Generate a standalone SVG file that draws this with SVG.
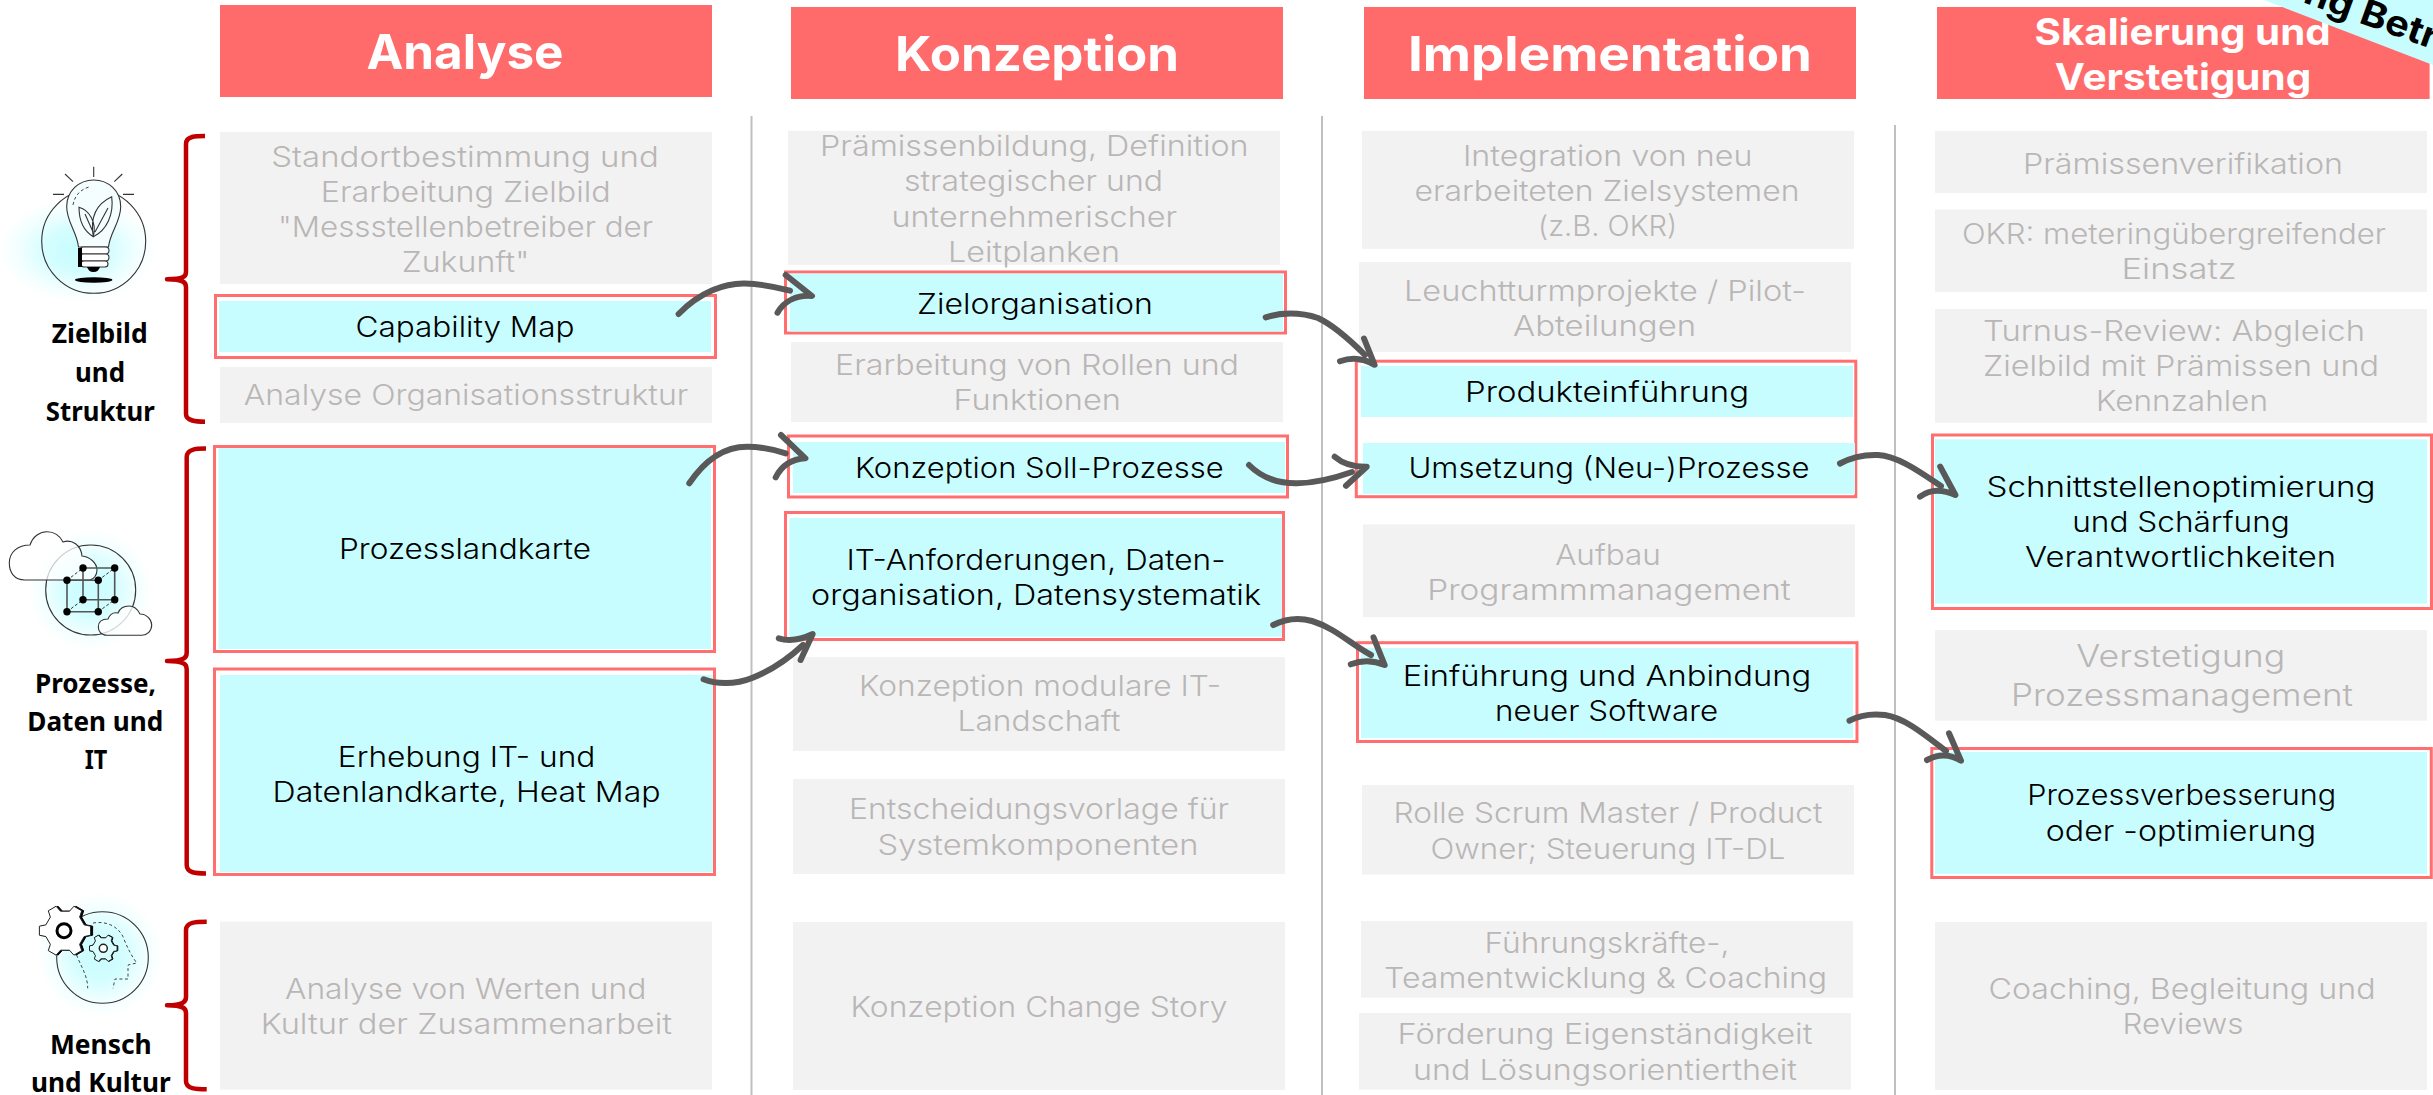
<svg xmlns="http://www.w3.org/2000/svg" width="2433" height="1095" viewBox="0 0 2433 1095">
<style>
text{font-family:"Inter","Liberation Sans",sans-serif;text-anchor:middle}
.h{fill:#ff6b6b}
.g{fill:#f2f2f2}
.c{fill:#c8fdff}
.o{fill:#fff;stroke:#ff6f6f;stroke-width:3}
.hd{fill:#fff;font-weight:700;font-size:48px;transform:translateY(1.5px)}
.hs{fill:#fff;font-weight:700;font-size:37px;transform:translateY(.7px)}
.t{fill:#b9b6b6;font-size:28px;font-weight:350;transform:translateY(.7px)}
.k{fill:#000;font-size:28px;font-weight:350;transform:translateY(.7px)}
.l{fill:#000;font-family:"Noto Sans","Liberation Sans",sans-serif;font-weight:700;font-size:27px}
.br{fill:none;stroke:#c00000;stroke-width:4.5;stroke-linejoin:round}
.div{stroke:#bfbfbf;stroke-width:2}
.ar{fill:none;stroke:#595959;stroke-width:6;stroke-linecap:round;stroke-linejoin:round}
.ic{fill:none;stroke:#333;stroke-width:1.1}
.dash{fill:none;stroke:#444;stroke-width:1;stroke-dasharray:3 2.5}
.cube{stroke:#555;stroke-width:1.6;fill:none}
.cd{stroke:#333;stroke-width:1;stroke-dasharray:3 2;fill:none}
</style>
<defs>
<radialGradient id="glow"><stop offset="0" stop-color="#c8fdff"/><stop offset=".4" stop-color="#c8fdff" stop-opacity=".8"/><stop offset=".75" stop-color="#c8fdff" stop-opacity=".25"/><stop offset="1" stop-color="#c8fdff" stop-opacity="0"/></radialGradient>
<polygon id="gear" vector-effect="non-scaling-stroke" points="73.6,-22.5 98.5,-17.4 98.5,17.4 73.6,22.5 56.3,52.5 64.3,76.6 34.2,94 17.3,75 -17.3,75 -34.2,94 -64.3,76.6 -56.3,52.5 -73.6,22.5 -98.5,17.4 -98.5,-17.4 -73.6,-22.5 -56.3,-52.5 -64.3,-76.6 -34.2,-94 -17.3,-75 17.3,-75 34.2,-94 64.3,-76.6 56.3,-52.5"/>
</defs>

<g id="dividers">
<line class="div" x1="751.5" y1="116" x2="751.5" y2="1095"/>
<line class="div" x1="1322" y1="116" x2="1322" y2="1095"/>
<line class="div" x1="1895" y1="125" x2="1895" y2="1095"/>
</g>

<g id="icon-bulb">
<ellipse cx="78" cy="250" rx="78" ry="52" fill="url(#glow)"/>
<circle class="ic" cx="93.7" cy="241.3" r="52"/>
<path class="ic" style="fill:#f4feff" d="M78.5 247C77 232 66.7 222 66.7 206.7C66.7 191 79 180 93.7 180C108.5 180 120.7 191 120.7 206.7C120.7 222 110 232 108.5 247Z"/>
<path class="ic" d="M93.3 236.7C82 230 79 218 79 207.3C89 210 97 222 93.3 236.7ZM93.3 236.7C90 218 96 204 111.7 196.700C114 214 107 230 93.3 236.7ZM85 214L93 232M108 208L95 232"/>
<path class="dash" d="M73 205C75 195 80 190 89 187"/>
<g class="ic" style="fill:#fff"><rect x="80" y="247" width="29" height="7" rx="3.5"/><rect x="80" y="254" width="29" height="7" rx="3.5"/><rect x="81" y="261" width="27" height="6" rx="3"/></g>
<path d="M78 248h4v19h-4z" fill="#000"/>
<path d="M87 267h13c-1 3-3 5-6.5 5s-5.500-2-6.500-5z" fill="#000"/>
<ellipse cx="93.7" cy="280" rx="18.7" ry="2.7" fill="#000"/>
<path class="ic" d="M93.7 166.7V177M65 174L73 181.6M122.3 174L114.3 181.6M53 194.4H64M123 194.4H134"/>
</g>
<g id="icon-cube">
<ellipse cx="90" cy="590" rx="62" ry="60" fill="url(#glow)"/>
<circle class="ic" cx="90.7" cy="590" r="45"/>
<path class="ic" style="fill:#fff;fill-opacity:.75" d="M25 580C14 580 9.3 572 9.3 563C9.3 552 18 545 30 545C33 536 40 531.7 47 531.7C54 531.7 60 536 63 542C72 539 81 545 82 556C90 557 97 563 97 570C97 575 94 579 90 580Z"/>
<path class="cube" d="M67 580.3H98.3V611.7H67ZM83 568H114.7V599.7H83Z"/>
<path class="cd" d="M67 580.3L83 568M98.3 580.3L114.7 568M67 611.7L83 599.7M98.3 611.7L114.7 599.7"/>
<g fill="#000"><circle cx="67" cy="580.3" r="3.7"/><circle cx="98.3" cy="580.3" r="3.7"/><circle cx="67" cy="611.7" r="3.7"/><circle cx="98.3" cy="611.7" r="3.7"/><circle cx="83" cy="568" r="3.7"/><circle cx="114.7" cy="568" r="3.7"/><circle cx="83" cy="599.7" r="3.7"/><circle cx="114.7" cy="599.7" r="3.7"/></g>
<path class="ic" style="fill:#fff;fill-opacity:.8" d="M107 635.3C101 635.3 98.3 631 98.3 627C98.3 622 102 619 108 619C110 614 114 612 118 613C120 608 125 606 129 606C134 606 138 610 140 614C147 614 151.7 620 151.7 625C151.7 631 147 635.3 142 635.3Z"/>
</g>
<g id="icon-head">
<ellipse cx="100" cy="955" rx="62" ry="62" fill="url(#glow)"/>
<circle class="ic" cx="102.5" cy="957.5" r="45.8"/>
<path class="dash" d="M76.7 955C80 965 87.7 975 87.7 988.3M93 923C105 921 117 925 123 936.7C127 947 131 955 136.7 963L128 965V979H115L113 988.3"/>
<use href="#gear" transform="translate(67 930.7) scale(.26)" fill="#000" stroke="#000"/>
<use href="#gear" transform="translate(65 930.7) scale(.26)" fill="#fff" stroke="#222"/>
<circle cx="64" cy="930.7" r="7" fill="#fff" stroke="#000" stroke-width="3"/>
<use href="#gear" transform="translate(104 948.3) scale(.14)" fill="#000" stroke="#000"/>
<use href="#gear" transform="translate(103.3 948.3) scale(.14)" fill="#d8fdff" stroke="#222"/>
<circle cx="103.3" cy="948.3" r="4" fill="#fff" stroke="#222" stroke-width="1.5"/>
</g>

<g id="label-zielbild">
<text class="l" x="99.7" y="343" textLength="96" lengthAdjust="spacingAndGlyphs">Zielbild</text>
<text class="l" x="100" y="381.7" textLength="50" lengthAdjust="spacingAndGlyphs">und</text>
<text class="l" x="100.3" y="420.7" textLength="109" lengthAdjust="spacingAndGlyphs">Struktur</text>
</g>
<g id="label-prozesse">
<text class="l" x="95.5" y="692.7" textLength="121" lengthAdjust="spacingAndGlyphs">Prozesse,</text>
<text class="l" x="95.3" y="730.7" textLength="136" lengthAdjust="spacingAndGlyphs">Daten und</text>
<text class="l" x="96" y="769.3" textLength="22.6" lengthAdjust="spacingAndGlyphs">IT</text>
</g>
<g id="label-mensch">
<text class="l" x="100.8" y="1054" textLength="101.7" lengthAdjust="spacingAndGlyphs">Mensch</text>
<text class="l" x="100.8" y="1092" textLength="139.7" lengthAdjust="spacingAndGlyphs">und Kultur</text>
</g>

<g id="brackets">
<path class="br" d="M205 136C196 136 186 136 186 144V272C186 277 183 279 167 279.3C183 279.6 186 282 186 287V414C186 421 196 421.7 205 421.7"/>
<path class="br" d="M206 448.6C196 448.6 186.7 449 186.7 457V653C186.7 658 184 660.7 167 661C184 661.3 186.7 664 186.7 669V865C186.7 873 196 873.5 206 873.5"/>
<path class="br" d="M206.7 921.7C196 921.7 186 922 186 930V997C186 1002 183 1005 167 1005.3C183 1005.6 186 1008 186 1013V1081C186 1089 196 1089.3 206.7 1089.3"/>
</g>

<g id="head-analyse"><rect class="h" x="220" y="5" width="492" height="92"/><text class="hd" x="465" y="67" textLength="197" lengthAdjust="spacingAndGlyphs">Analyse</text></g>
<g id="head-konzeption"><rect class="h" x="791" y="7" width="492" height="92"/><text class="hd" x="1037" y="69.4" textLength="284" lengthAdjust="spacingAndGlyphs">Konzeption</text></g>
<g id="head-implementation"><rect class="h" x="1364" y="7" width="492" height="92"/><text class="hd" x="1610" y="69.4" textLength="404" lengthAdjust="spacingAndGlyphs">Implementation</text></g>
<g id="head-skalierung"><rect class="h" x="1937" y="7" width="492.6" height="92"/>
<text class="hs" x="2182.6" y="44" textLength="296" lengthAdjust="spacingAndGlyphs">Skalierung und</text>
<text class="hs" x="2183" y="89.3" textLength="256.4" lengthAdjust="spacingAndGlyphs">Verstetigung</text></g>
<g id="banner"><polygon class="c" points="2264,0 2433,65 2433,0"/>
<text x="2302" y="2" transform="rotate(20 2302 2)" style="text-anchor:start;font-weight:700;font-size:36px;fill:#000" textLength="140" lengthAdjust="spacingAndGlyphs">ng Betr</text></g>

<g id="a1"><rect class="g" x="220" y="132" width="492" height="152"/>
<text class="t" x="465" y="166" textLength="387.5" lengthAdjust="spacingAndGlyphs">Standortbestimmung und</text>
<text class="t" x="465.7" y="201" textLength="290" lengthAdjust="spacingAndGlyphs">Erarbeitung Zielbild</text>
<text class="t" x="465.5" y="236" textLength="375" lengthAdjust="spacingAndGlyphs">"Messstellenbetreiber der</text>
<text class="t" x="465.5" y="271" textLength="127.5" lengthAdjust="spacingAndGlyphs">Zukunft"</text></g>
<g id="a2"><rect class="o" x="215.5" y="295.5" width="500" height="62"/><rect class="c" x="219" y="301" width="492" height="51"/>
<text class="k" x="465" y="336.4" textLength="219" lengthAdjust="spacingAndGlyphs">Capability Map</text></g>
<g id="a3"><rect class="g" x="220" y="367" width="492" height="56"/>
<text class="t" x="466" y="404.6" textLength="444.6" lengthAdjust="spacingAndGlyphs">Analyse Organisationsstruktur</text></g>
<g id="a4"><rect class="o" x="214.5" y="446.5" width="500" height="205"/><rect class="c" x="218.6" y="448" width="492.4" height="201"/>
<text class="k" x="465" y="558.4" textLength="252" lengthAdjust="spacingAndGlyphs">Prozesslandkarte</text></g>
<g id="a5"><rect class="o" x="214.5" y="669" width="500" height="205.5"/><rect class="c" x="220" y="675" width="493" height="197"/>
<text class="k" x="466.6" y="766.5" textLength="257.5" lengthAdjust="spacingAndGlyphs">Erhebung IT- und</text>
<text class="k" x="466.6" y="801" textLength="388" lengthAdjust="spacingAndGlyphs">Datenlandkarte, Heat Map</text></g>
<g id="a6"><rect class="g" x="220" y="921.6" width="492" height="168"/>
<text class="t" x="465.7" y="998.4" textLength="361.4" lengthAdjust="spacingAndGlyphs">Analyse von Werten und</text>
<text class="t" x="466.4" y="1033.8" textLength="411.4" lengthAdjust="spacingAndGlyphs">Kultur der Zusammenarbeit</text></g>

<g id="b1"><rect class="g" x="788" y="130.8" width="492" height="134"/>
<text class="t" x="1034.3" y="155.7" textLength="428.6" lengthAdjust="spacingAndGlyphs">Prämissenbildung, Definition</text>
<text class="t" x="1033.5" y="190.8" textLength="259" lengthAdjust="spacingAndGlyphs">strategischer und</text>
<text class="t" x="1034.3" y="225.9" textLength="285.7" lengthAdjust="spacingAndGlyphs">unternehmerischer</text>
<text class="t" x="1034" y="261.7" textLength="172" lengthAdjust="spacingAndGlyphs">Leitplanken</text></g>
<g id="b2"><rect class="o" x="785.5" y="272" width="500" height="61"/><rect class="c" x="790" y="273.6" width="493" height="58"/>
<text class="k" x="1035" y="313.2" textLength="236" lengthAdjust="spacingAndGlyphs">Zielorganisation</text></g>
<g id="b3"><rect class="g" x="791" y="342" width="492" height="80"/>
<text class="t" x="1037" y="374.3" textLength="404" lengthAdjust="spacingAndGlyphs">Erarbeitung von Rollen und</text>
<text class="t" x="1037.3" y="409.3" textLength="167.5" lengthAdjust="spacingAndGlyphs">Funktionen</text></g>
<g id="b4"><rect class="o" x="788.5" y="436" width="499" height="61"/><rect class="c" x="793" y="442" width="492" height="51"/>
<text class="k" x="1039.3" y="477" textLength="368.6" lengthAdjust="spacingAndGlyphs">Konzeption Soll-Prozesse</text></g>
<g id="b5"><rect class="o" x="785.5" y="512.5" width="498" height="127"/><rect class="c" x="789.4" y="518" width="492.6" height="118.7"/>
<text class="k" x="1036" y="569.3" textLength="379" lengthAdjust="spacingAndGlyphs">IT-Anforderungen, Daten-</text>
<text class="k" x="1036" y="604.3" textLength="450" lengthAdjust="spacingAndGlyphs">organisation, Datensystematik</text></g>
<g id="b6"><rect class="g" x="793" y="657" width="492" height="94"/>
<text class="t" x="1040" y="695" textLength="362" lengthAdjust="spacingAndGlyphs">Konzeption modulare IT-</text>
<text class="t" x="1039" y="730" textLength="163" lengthAdjust="spacingAndGlyphs">Landschaft</text></g>
<g id="b7"><rect class="g" x="793" y="779" width="492" height="95"/>
<text class="t" x="1039" y="818" textLength="380" lengthAdjust="spacingAndGlyphs">Entscheidungsvorlage für</text>
<text class="t" x="1038" y="854" textLength="321" lengthAdjust="spacingAndGlyphs">Systemkomponenten</text></g>
<g id="b8"><rect class="g" x="793" y="922" width="492" height="168"/>
<text class="t" x="1039" y="1016" textLength="377" lengthAdjust="spacingAndGlyphs">Konzeption Change Story</text></g>

<g id="c1"><rect class="g" x="1362" y="130.8" width="492" height="118"/>
<text class="t" x="1607.7" y="164.9" textLength="289.6" lengthAdjust="spacingAndGlyphs">Integration von neu</text>
<text class="t" x="1607" y="200" textLength="385" lengthAdjust="spacingAndGlyphs">erarbeiteten Zielsystemen</text>
<text class="t" x="1607.6" y="235.7" textLength="139" lengthAdjust="spacingAndGlyphs">(z.B. OKR)</text></g>
<g id="c2"><rect class="g" x="1359" y="262" width="492" height="90"/>
<text class="t" x="1605" y="299.9" textLength="402" lengthAdjust="spacingAndGlyphs">Leuchtturmprojekte / Pilot-</text>
<text class="t" x="1604.6" y="335" textLength="183" lengthAdjust="spacingAndGlyphs">Abteilungen</text></g>
<g id="c3"><rect class="o" x="1356.3" y="361.2" width="499.5" height="135.5"/>
<rect class="c" x="1361" y="365.8" width="492" height="51.2"/>
<text class="k" x="1607" y="401.6" textLength="284" lengthAdjust="spacingAndGlyphs">Produkteinführung</text>
<rect class="c" x="1363" y="443" width="492" height="50.9"/>
<text class="k" x="1609" y="477" textLength="401" lengthAdjust="spacingAndGlyphs">Umsetzung (Neu-)Prozesse</text></g>
<g id="c4"><rect class="g" x="1363" y="524.4" width="492" height="92.8"/>
<text class="t" x="1608" y="564" textLength="105.7" lengthAdjust="spacingAndGlyphs">Aufbau</text>
<text class="t" x="1609" y="599" textLength="363.6" lengthAdjust="spacingAndGlyphs">Programmmanagement</text></g>
<g id="c5"><rect class="o" x="1357.5" y="642.7" width="499.5" height="98.8"/><rect class="c" x="1361" y="648" width="492" height="90"/>
<text class="k" x="1607" y="685" textLength="408.6" lengthAdjust="spacingAndGlyphs">Einführung und Anbindung</text>
<text class="k" x="1606.6" y="720.5" textLength="223" lengthAdjust="spacingAndGlyphs">neuer Software</text></g>
<g id="c6"><rect class="g" x="1362" y="785" width="492" height="89.5"/>
<text class="t" x="1608" y="822.5" textLength="429" lengthAdjust="spacingAndGlyphs">Rolle Scrum Master / Product</text>
<text class="t" x="1608" y="857.9" textLength="355" lengthAdjust="spacingAndGlyphs">Owner; Steuerung IT-DL</text></g>
<g id="c7"><rect class="g" x="1361" y="921" width="492" height="76.7"/>
<text class="t" x="1607" y="952.4" textLength="245" lengthAdjust="spacingAndGlyphs">Führungskräfte-,</text>
<text class="t" x="1605.6" y="987.8" textLength="443" lengthAdjust="spacingAndGlyphs">Teamentwicklung &amp; Coaching</text></g>
<g id="c8"><rect class="g" x="1359" y="1013" width="492" height="76.7"/>
<text class="t" x="1605" y="1043.7" textLength="415" lengthAdjust="spacingAndGlyphs">Förderung Eigenständigkeit</text>
<text class="t" x="1605" y="1079.5" textLength="384" lengthAdjust="spacingAndGlyphs">und Lösungsorientiertheit</text></g>

<g id="d1"><rect class="g" x="1935" y="131" width="492" height="62"/>
<text class="t" x="2183" y="173" textLength="320" lengthAdjust="spacingAndGlyphs">Prämissenverifikation</text></g>
<g id="d2"><rect class="g" x="1935" y="209.5" width="492" height="82.5"/>
<text class="t" x="2174" y="243" textLength="424" lengthAdjust="spacingAndGlyphs">OKR: meteringübergreifender</text>
<text class="t" x="2179" y="278" textLength="115" lengthAdjust="spacingAndGlyphs">Einsatz</text></g>
<g id="d3"><rect class="g" x="1935" y="309" width="492" height="113.7"/>
<text class="t" x="2174" y="340" textLength="382" lengthAdjust="spacingAndGlyphs">Turnus-Review: Abgleich</text>
<text class="t" x="2181" y="375" textLength="396" lengthAdjust="spacingAndGlyphs">Zielbild mit Prämissen und</text>
<text class="t" x="2182" y="410" textLength="172" lengthAdjust="spacingAndGlyphs">Kennzahlen</text></g>
<g id="d4"><rect class="o" x="1932.5" y="435" width="499" height="173.5"/><rect class="c" x="1935" y="439.3" width="492" height="164.4"/>
<text class="k" x="2181" y="496.7" textLength="389" lengthAdjust="spacingAndGlyphs">Schnittstellenoptimierung</text>
<text class="k" x="2181" y="531.7" textLength="217.5" lengthAdjust="spacingAndGlyphs">und Schärfung</text>
<text class="k" x="2180.6" y="566.7" textLength="311" lengthAdjust="spacingAndGlyphs">Verantwortlichkeiten</text></g>
<g id="d5"><rect class="g" x="1935" y="630" width="492" height="90.7"/>
<text class="t" x="2180.8" y="666.7" style="font-size:31px" textLength="209" lengthAdjust="spacingAndGlyphs">Verstetigung</text>
<text class="t" x="2182" y="705" style="font-size:31px" textLength="342" lengthAdjust="spacingAndGlyphs">Prozessmanagement</text></g>
<g id="d6"><rect class="o" x="1931.8" y="748.5" width="499.5" height="129"/><rect class="c" x="1935" y="752" width="492" height="121.7"/>
<text class="k" x="2181.7" y="804" textLength="309" lengthAdjust="spacingAndGlyphs">Prozessverbesserung</text>
<text class="k" x="2181" y="840" textLength="270.4" lengthAdjust="spacingAndGlyphs">oder -optimierung</text></g>
<g id="d7"><rect class="g" x="1935" y="922" width="492" height="168"/>
<text class="t" x="2182" y="998" textLength="387" lengthAdjust="spacingAndGlyphs">Coaching, Begleitung und</text>
<text class="t" x="2183" y="1033" textLength="121" lengthAdjust="spacingAndGlyphs">Reviews</text></g>

<g id="connectors" class="ar">
<path d="M678.6 314C700 292 725 283 745 283.5C762 284 776 287 790 290.7"/><path d="M785.7 275L812 296C798 295 785 300 777.5 312.7"/>
<path d="M689.3 483.3C705 460 725 446.7 747 446.7C762 446.7 775 450 785.7 453.3"/><path d="M781 435L805.4 458.3C793 459 782 465 775.7 477.3"/>
<path d="M703.6 679.3C715 684 735 685 752 678C770 671 787 660 803 645"/><path d="M778.8 638.3C790 642 800 640 812.7 634L800.6 660"/>
<path d="M1249 465C1262 478 1280 483.5 1297 483.3C1315 483 1335 478 1352 472"/><path d="M1334.7 456.7C1342 463 1352 467 1366.7 466.7L1346 485.7"/>
<path d="M1265.7 317.4C1280 312.5 1300 312 1318 318C1335 326 1350 340 1365 355"/><path d="M1364 338.5L1374.6 364.8C1363 358 1352 357 1340 361.3"/>
<path d="M1273.2 625C1285 619 1298 617 1312 621C1335 628 1352 645 1371 655"/><path d="M1373.5 637.3L1384.7 665C1373 660 1362 660 1350.8 664.3"/>
<path d="M1840 463.5C1852 457 1865 454.5 1878 455C1898 456 1920 472 1941 486"/><path d="M1940.2 466.7L1955.4 495C1942 489 1930 489 1920 496.7"/>
<path d="M1849.5 720.7C1860 715 1872 713.5 1885 715C1905 718 1925 735 1946 751"/><path d="M1949 733.3L1961 760.7C1950 754 1938 754 1927 760"/>
</g>
</svg>
